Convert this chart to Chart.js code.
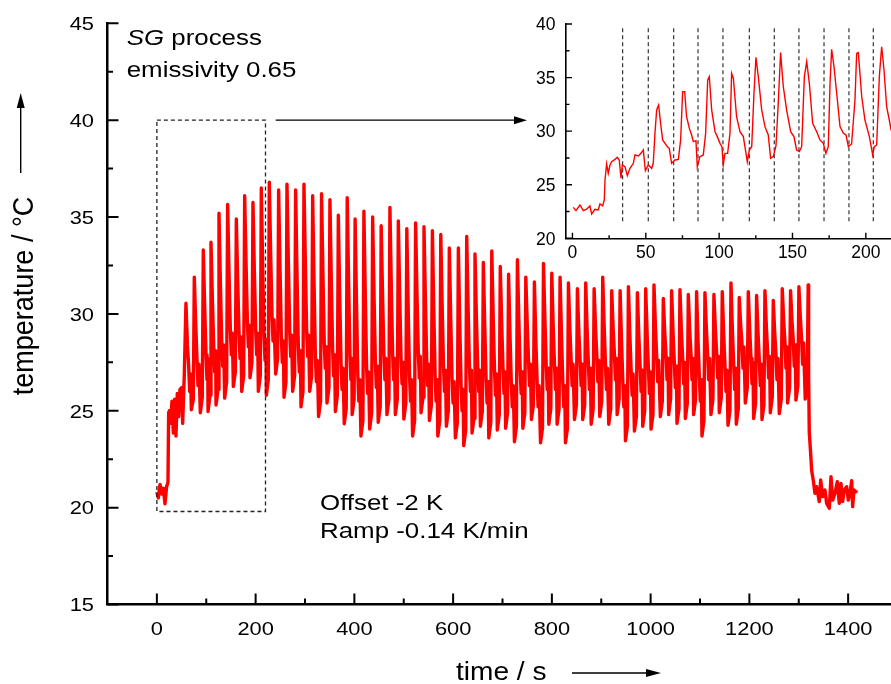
<!DOCTYPE html>
<html><head><meta charset="utf-8">
<script src="https://cdn.jsdelivr.net/npm/chart.js@4.4.1/dist/chart.umd.min.js"></script>
<style>
html,body{margin:0;padding:0;background:#fff;overflow:hidden;width:891px;height:684px}
#main{position:absolute;left:0;top:0}
#inset{position:absolute;left:480px;top:0}
</style></head><body>
<canvas id="main" width="900" height="684"></canvas>
<canvas id="inset" width="420" height="270"></canvas>
<script>
// ---- main record: temperature (°C) over time (s) ----
const mainWarmup = [[0,20.8],[2.9,20.5],[6.3,21.2],[9.7,20.7],[13,21.0],[16.4,20.2],[19.8,21.1],[22.5,21.3],
  [23.8,24.9],[25.2,25.0],[27.9,24.35],[30.6,25.5],[33.3,23.85],[36,25.6],[38.7,23.7],[41.4,25.9],[44.1,24.7],
  [46.8,26.1],[50.2,26.2],[52.2,24.35],[55.6,26.9]];

// one row per heating cycle: trough, start of rise, peak, decay, plateau wiggle
const mainCycles = [
  [[58.9,30.55],[61.9,28.4],[64.4,27.3],[66.4,26.0],[68.4,26.9]],
  [[69.8,25.05],[73.8,25.6],[75.8,31.9],[78.8,29.4],[81.3,27.6],[83.3,26.3],[85.3,27.4]],
  [[88,24.9],[92,25.7],[94,33.3],[97,30.2],[99.5,27.9],[101.5,26.6],[103,27.7]],
  [[103.6,24.96],[107.6,25.8],[109.6,33.7],[112.6,30.6],[115.1,28.3],[117.1,27.0],[119.1,28.1]],
  [[119.8,25.3],[123.8,26.1],[125.8,35.2],[128.8,31.4],[131.3,28.6],[133.3,27.3],[135.3,28.4]],
  [[137.3,25.65],[141.3,26.5],[143.3,35.65],[146.3,31.9],[148.8,29.2],[150.8,27.9],[152.8,29.0]],
  [[154.9,26.25],[158.9,27.0],[160.9,34.9],[163.9,31.5],[166.4,29.0],[168.4,27.7],[170.4,28.8]],
  [[171.8,26.0],[175.8,26.8],[177.8,36.1],[180.8,32.4],[183.3,29.6],[185.3,28.3],[187.3,29.4]],
  [[188.6,26.7],[192.6,27.5],[194.6,35.75],[197.6,32.0],[200.1,29.2],[202.1,27.9],[204.1,29.0]],
  [[205.5,26.0],[209.5,26.8],[211.5,36.5],[214.5,32.2],[217,28.9],[219,27.6],[221,28.7]],
  [[221.7,25.8],[225.7,26.6],[227.7,36.8],[230.7,32.8],[233.2,29.9],[235.2,28.6],[237.2,29.7]],
  [[240.6,26.9],[244.6,27.7],[246.6,36.4],[249.6,32.1],[252.1,28.8],[254.1,27.5],[256.1,28.6]],
  [[257.5,25.7],[261.5,26.5],[263.5,36.7],[266.5,32.4],[269,29.1],[271,27.8],[273,28.9]],
  [[275,26.0],[279,26.8],[281,36.4],[284,31.8],[286.5,28.3],[288.5,27.0],[290.5,28.1]],
  [[291.9,25.2],[295.9,26.0],[297.9,36.7],[300.9,32.4],[303.4,29.1],[305.4,27.8],[307.4,28.9]],
  [[309.5,26.0],[313.5,26.8],[315.5,36.1],[318.5,31.4],[321,27.8],[323,26.5],[325,27.6]],
  [[327.5,24.7],[331.5,25.5],[333.5,36.2],[336.5,31.8],[339,28.5],[341,27.2],[343,28.3]],
  [[344.5,25.4],[348.5,26.2],[350.5,35.9],[353.5,31.4],[356,28.1],[358,26.8],[360,27.9]],
  [[361.5,24.96],[365.5,25.8],[367.5,35.1],[370.5,30.7],[373,27.4],[375,26.1],[377,27.2]],
  [[379.5,24.33],[383.5,25.1],[385.5,36.0],[388.5,31.4],[391,27.9],[393,26.6],[394.8,27.7]],
  [[395.5,24.8],[399.5,25.6],[401.5,34.9],[404.5,30.3],[407,26.8],[409,25.5],[411,26.6]],
  [[413.3,23.7],[417.3,24.5],[419.3,35.3],[422.3,30.7],[424.8,27.2],[426.8,25.9],[428.8,27.0]],
  [[431,24.06],[435,24.9],[437,35.0],[440,30.7],[442.5,27.5],[444.5,26.2],[446.5,27.3]],
  [[448.3,24.4],[452.3,25.2],[454.3,34.55],[457.3,30.7],[459.8,27.9],[461.8,26.6],[463.8,27.7]],
  [[466,24.8],[470,25.6],[472,35.5],[475,31.1],[477.5,27.9],[479.5,26.6],[481.5,27.7]],
  [[483,24.8],[487,25.6],[489,34.8],[492,30.7],[494.5,27.7],[496.5,26.4],[498.5,27.5]],
  [[500.2,24.57],[504.2,25.4],[506.2,34.4],[509.2,30.0],[511.7,26.8],[513.7,25.5],[515.7,26.6]],
  [[518,23.7],[522,24.5],[524,34.7],[527,30.8],[529.5,28.0],[531.5,26.7],[533.5,27.8]],
  [[535,24.9],[539,25.7],[541,34.5],[544,30.6],[546.5,27.6],[548.5,26.3],[550.5,27.4]],
  [[552,24.5],[556,25.3],[558,34.3],[561,30.0],[563.5,26.8],[565.5,25.5],[567.5,26.6]],
  [[569,23.7],[573,24.5],[575,34.1],[578,30.2],[580.5,27.3],[582.5,26.0],[584.5,27.1]],
  [[586.3,24.2],[590.3,25.0],[592.3,33.4],[595.3,29.6],[597.8,26.7],[599.8,25.4],[601.8,26.5]],
  [[604.6,23.6],[608.6,24.4],[610.6,33.4],[613.6,29.3],[616.1,26.3],[618.1,25.0],[620.1,26.1]],
  [[621.5,23.2],[625.5,24.0],[627.5,34.0],[630.5,30.2],[633,27.3],[635,26.0],[637,27.1]],
  [[638.3,23.85],[642.3,24.6],[644.3,33.1],[647.3,29.7],[649.8,27.3],[651.8,26.0],[653.8,27.1]],
  [[655.2,24.2],[659.2,25.0],[661.2,32.65],[664.2,29.2],[666.7,26.7],[668.7,25.4],[670.7,26.5]],
  [[672.3,23.6],[676.3,24.4],[678.3,33.25],[681.3,29.7],[683.8,27.1],[685.8,25.8],[687.8,26.9]],
  [[689.5,24.0],[693.5,24.8],[695.5,32.45],[698.5,29.4],[701,27.2],[703,25.9],[705,27.0]],
  [[706.3,24.1],[710.3,24.9],[712.3,32.05],[715.3,28.8],[717.8,26.5],[719.8,25.2],[721.8,26.3]],
  [[724.2,23.4],[728.2,24.2],[730.2,32.8],[733.2,29.6],[735.7,27.2],[737.7,25.9],[739.7,27.0]],
  [[741.2,24.1],[745.2,24.9],[747.2,31.9],[750.2,29.4],[752.7,27.6],[754.7,26.3],[756.7,27.4]],
  [[758.6,24.55],[762.6,25.3],[764.6,31.65],[767.6,28.6],[770.1,26.5],[772.1,25.2],[774.1,26.3]],
  [[777,23.35],[781,24.1],[783,32.6],[786,29.6],[788.5,27.4],[790.5,26.1],[792.5,27.2]],
  [[793.8,24.3],[797.8,25.1],[799.8,32.1],[802.8,29.3],[805.3,27.4],[807.3,26.1],[809.3,27.2]],
  [[810.6,24.3],[814.6,25.1],[816.6,31.9],[819.6,28.8],[822.1,26.5],[824.1,25.2],[826.1,26.3]],
  [[827.5,23.35],[831.5,24.1],[833.5,31.6],[836.5,29.2],[839,27.6],[841,26.3],[843,27.4]],
  [[845.7,24.55],[849.7,25.3],[851.7,31.3],[854.7,29.0],[857.2,27.6],[859.2,26.3],[861.2,27.4]],
  [[862.5,24.55],[866.5,25.3],[868.5,31.6],[871.5,29.1],[874,27.4],[876,26.1],[878,27.2]],
  [[879.6,24.3],[883.6,25.1],[885.6,31.3],[888.6,29.2],[891.1,27.8],[893.1,26.5],[895.1,27.6]],
  [[897,24.7],[901,25.5],[903,31.9],[906,29.3],[908.5,27.4],[910.5,26.1],[912.5,27.2]],
  [[915.2,24.3],[919.2,25.1],[921.2,31.2],[924.2,29.2],[926.7,27.9],[928.7,26.6],[930.7,27.7]],
  [[932.2,24.8],[936.2,25.6],[938.2,31.2],[941.2,28.5],[943.7,26.5],[945.7,25.2],[947.7,26.3]],
  [[949,23.45],[953,24.2],[955,31.4],[958,28.9],[960.5,27.1],[962.5,25.8],[964.5,26.9]],
  [[967.2,23.95],[971.2,24.7],[973.2,31.1],[976.2,28.8],[978.7,27.3],[980.7,26.0],[982.7,27.1]],
  [[984,24.2],[988,25.0],[990,31.3],[993,28.9],[995.5,27.2],[997.5,25.9],[999.5,27.0]],
  [[1000.8,24.05],[1004.8,24.8],[1006.8,31.5],[1009.8,29.3],[1012.3,27.8],[1014.3,26.5],[1016.3,27.6]],
  [[1019.7,24.7],[1023.7,25.5],[1025.7,30.8],[1028.7,29.0],[1031.2,27.9],[1033.2,26.6],[1035.2,27.7]],
  [[1036.5,24.8],[1040.5,25.6],[1042.5,31.2],[1045.5,29.0],[1048,27.5],[1050,26.2],[1052,27.3]],
  [[1053.4,24.35],[1057.4,25.1],[1059.4,31.25],[1062.4,29.1],[1064.9,27.7],[1066.9,26.4],[1068.9,27.5]],
  [[1070.3,24.6],[1074.3,25.4],[1076.3,31.0],[1079.3,29.1],[1081.8,27.9],[1083.8,26.6],[1085.8,27.7]],
  [[1087.1,24.8],[1091.1,25.6],[1093.1,31.15],[1096.1,28.6],[1098.6,26.8],[1100.6,25.5],[1102.6,26.6]],
  [[1104,23.7],[1108,24.5],[1110,31.1],[1113,29.2],[1115.5,27.9],[1117.5,26.6],[1119.5,27.7]],
  [[1122.2,24.8],[1126.2,25.6],[1128.2,31.0],[1131.2,29.2],[1133.7,28.0],[1135.7,26.7],[1137.7,27.8]],
  [[1139.1,24.9],[1143.1,25.7],[1145.1,31.15],[1148.1,28.9],[1150.6,27.3],[1152.6,26.0],[1154.6,27.1]],
  [[1156.7,24.25],[1160.7,25.0],[1162.7,31.6],[1165.7,29.1],[1168.2,27.4],[1170.2,26.1],[1172.2,27.2]],
  [[1173.5,24.3],[1177.5,25.1],[1179.5,30.85],[1182.5,29.4],[1185,28.5],[1187,27.2],[1189,28.3]],
  [[1191.8,25.4],[1195.8,26.2],[1197.8,31.15],[1200.8,29.1],[1203.3,27.7],[1205.3,26.4],[1207.3,27.5]],
  [[1208.6,24.6],[1212.6,25.4],[1214.6,30.95],[1217.6,29.0],[1220.1,27.6],[1222.1,26.3],[1224.1,27.4]],
  [[1225.5,24.55],[1229.5,25.3],[1231.5,31.2],[1234.5,29.3],[1237,28.0],[1239,26.7],[1241,27.8]],
  [[1242.4,24.9],[1246.4,25.7],[1248.4,30.7],[1251.4,29.0],[1253.9,27.9],[1255.9,26.6],[1257.9,27.7]],
  [[1260.6,24.85],[1264.6,25.6],[1266.6,31.3],[1269.6,29.6],[1272.1,28.5],[1274.1,27.2],[1276.1,28.3]],
  [[1277.4,25.4],[1281.4,26.2],[1283.4,31.2],[1286.4,29.6],[1288.9,28.6],[1290.9,27.3],[1292.9,28.4]],
  [[1294.3,25.55],[1298.3,26.3],[1300.3,31.4],[1303.3,29.8],[1305.8,28.7],[1307.8,27.4],[1309.8,28.5]],
  [[1313.1,25.6],[1317.1,26.4],[1319.1,31.5]]
];

const mainCooldown = [[1320,26.8],[1321.3,23.9],[1324.1,22.8],[1326.2,21.9],[1329.5,21.4],[1332.8,20.74],
  [1336.2,21.08],[1341.6,20.31],[1344.4,21.43],[1348.4,20.57],[1353.1,20.91],[1356.5,20.22],[1361.9,19.97],
  [1365.3,21.6],[1368.7,20.39],[1373.4,20.74],[1378.1,21.34],[1382.1,20.22],[1385.5,21.25],[1388.9,20.31],
  [1392.2,20.91],[1397,21.08],[1400.3,20.39],[1403.7,20.74],[1407.2,21.39],[1409.2,20.05],[1411.8,20.91],
  [1415.9,20.82],[1417.3,20.91]];

// ---- zoomed record of the first cycles ----
const insetSeries = [[0.57,22.89],[2.4,22.58],[5.1,23.11],[7.4,22.58],[9.7,22.71],[11.9,23.02],[13.1,22.27],
  [15.3,22.71],[17.6,22.64],[18.75,23.20],[20.6,23.02],[21.7,23.58],[22.2,25.44],[23.3,26.94],[24.4,26.07],
  [25.6,26.84],[26.7,27.15],[29.0,27.37],[30.6,27.56],[31.9,27.31],[33.1,25.60],[34.0,26.84],[35.8,26.69],
  [37.4,25.85],[39.2,26.53],[41.5,27.00],[42.6,27.78],[44.9,27.68],[46.7,27.93],[48.3,28.24],[49.7,26.31],
  [51.7,26.84],[54.0,26.53],[55.1,27.00],[56.25,29.80],[57.4,31.98],[58.75,32.44],[60.1,30.73],[61.5,29.18],
  [63.1,28.86],[64.7,28.55],[66.0,28.40],[67.6,27.00],[69.9,27.31],[72.2,27.37],[73.75,29.18],[75.1,33.69],
  [76.5,33.69],[77.8,31.35],[79.7,30.26],[81.25,29.64],[82.4,29.02],[84.2,29.11],[85.1,26.69],[86.9,27.62],
  [89.2,27.78],[90.8,29.80],[92.2,34.77],[93.3,35.09],[94.9,31.98],[97.2,29.95],[98.75,29.49],[100.6,28.86],
  [101.9,28.55],[102.8,26.84],[104.0,27.93],[105.8,27.93],[107.4,29.80],[108.5,35.40],[109.7,34.93],
  [111.9,31.35],[114.2,29.95],[116.5,29.49],[118.3,27.93],[119.2,27.15],[120.6,28.24],[122.2,28.55],
  [123.75,33.53],[125.1,36.89],[126.7,35.09],[129.0,31.98],[131.25,30.42],[133.5,29.64],[135.1,27.46],
  [136.9,27.62],[138.75,28.62],[140.3,32.60],[141.9,37.33],[143.75,34.15],[146.0,31.98],[148.75,29.95],
  [151.0,29.49],[152.8,28.24],[154.7,28.09],[156.25,28.55],[158.1,35.09],[159.7,36.49],[161.5,34.46],
  [163.75,30.73],[166.5,29.95],[168.75,29.18],[171.0,28.86],[172.8,27.93],[174.4,28.55],[175.6,34.46],
  [176.7,37.64],[178.3,36.02],[180.6,32.91],[182.4,30.42],[184.7,29.80],[186.5,29.64],[188.1,28.55],
  [190.3,28.80],[192.6,32.91],[193.75,37.26],[194.9,37.33],[197.2,33.22],[199.4,31.04],[202.4,29.49],
  [204.7,27.78],[205.8,28.55],[207.4,28.71],[209.2,35.09],[210.8,37.88],[212.4,35.71],[214.2,32.29],
  [216.0,31.04],[217.2,30.11],[219,29.8],[221,29.5],[223.5,29.3]];
const insetMarkers = [34.2, 51.7, 69.0, 85.6, 102.6, 120.6, 137.6, 154.4, 171.5, 188.5, 205.1];

// ---- axes ----
const mainXTicks = [0, 200, 400, 600, 800, 1000, 1200, 1400];
const mainXMinor = [100, 300, 500, 700, 900, 1100, 1300, 1500];
const mainYTicks = [15, 20, 25, 30, 35, 40, 45];
const mainYMinor = [17.5, 22.5, 27.5, 32.5, 37.5, 42.5];
const insetXTicks = [0, 50, 100, 150, 200];
const insetXMinor = [25, 75, 125, 175, 225];
const insetYTicks = [20, 25, 30, 35, 40];
const insetYMinor = [22.5, 27.5, 32.5, 37.5];

// ---- annotations ----
const zoomBox = { t0: 0, t1: 220, lo: 19.8, hi: 40 };
const pointer = { t0: 240.6, t1: 749.6, level: 40 };

const FONT = '"Liberation Sans", Arial, sans-serif';
const toPoints = pairs => pairs.map(([x, y]) => ({ x, y }));

function txt(ctx, s, x, y, size, align, sx, style) {
  ctx.save();
  ctx.translate(x, y);
  ctx.scale(sx, 1);
  ctx.font = (style ? style + ' ' : '') + size + 'px ' + FONT;
  ctx.textAlign = align;
  ctx.textBaseline = 'alphabetic';
  ctx.fillStyle = '#000';
  ctx.fillText(s, 0, 0);
  ctx.restore();
}
function arrow(ctx, x1, y1, x2, y2, len, half, lw) {
  const a = Math.atan2(y2 - y1, x2 - x1);
  const bx = x2 - len * Math.cos(a), by = y2 - len * Math.sin(a);
  ctx.save();
  ctx.strokeStyle = '#000'; ctx.fillStyle = '#000'; ctx.lineWidth = lw;
  ctx.beginPath(); ctx.moveTo(x1, y1); ctx.lineTo(bx, by); ctx.stroke();
  ctx.beginPath();
  ctx.moveTo(x2, y2);
  ctx.lineTo(bx + half * Math.sin(a), by - half * Math.cos(a));
  ctx.lineTo(bx - half * Math.sin(a), by + half * Math.cos(a));
  ctx.closePath(); ctx.fill();
  ctx.restore();
}
function inwardTicks(ctx, chart, xs, ys, lw) {
  const { x, y } = chart.scales, a = chart.chartArea;
  ctx.save();
  ctx.strokeStyle = '#000'; ctx.lineWidth = lw;
  ctx.beginPath();
  xs.forEach(([v, l]) => { const px = x.getPixelForValue(v); ctx.moveTo(px, a.bottom); ctx.lineTo(px, a.bottom - l); });
  ys.forEach(([v, l]) => { const py = y.getPixelForValue(v); ctx.moveTo(a.left, py); ctx.lineTo(a.left + l, py); });
  ctx.stroke();
  ctx.restore();
}

const mainDecor = {
  id: 'mainDecor',
  afterDatasetsDraw(chart) {
    const ctx = chart.ctx, { x, y } = chart.scales;
    // dashed frame around the zoomed interval
    ctx.save();
    ctx.strokeStyle = '#222'; ctx.lineWidth = 1.3; ctx.setLineDash([4, 3]);
    const bx0 = x.getPixelForValue(zoomBox.t0), bx1 = x.getPixelForValue(zoomBox.t1);
    const by0 = y.getPixelForValue(zoomBox.hi), by1 = y.getPixelForValue(zoomBox.lo);
    ctx.strokeRect(bx0, by0, bx1 - bx0, by1 - by0);
    ctx.restore();
    const py = y.getPixelForValue(pointer.level);
    arrow(ctx, x.getPixelForValue(pointer.t0), py, x.getPixelForValue(pointer.t1), py, 13, 4, 1.3);
  },
  afterDraw(chart) {
    const ctx = chart.ctx, { x, y } = chart.scales;
    inwardTicks(ctx, chart, mainXTicks.map(v => [v, 11]).concat(mainXMinor.map(v => [v, 6])),
      mainYTicks.map(v => [v, 11]).concat(mainYMinor.map(v => [v, 5.5])), 2);
    mainXTicks.forEach(v => txt(ctx, String(v), x.getPixelForValue(v), 635, 19, 'center', 1.15));
    mainYTicks.forEach(v => txt(ctx, String(v), 94, y.getPixelForValue(v) + 6.8, 19, 'right', 1.15));
    // notes
    ctx.save();
    ctx.font = 'italic 22.5px ' + FONT;
    const wSG = ctx.measureText('SG').width * 1.15;
    ctx.restore();
    txt(ctx, 'SG', 126.7, 45, 22.5, 'left', 1.15, 'italic');
    txt(ctx, ' process', 126.7 + wSG, 45, 22.5, 'left', 1.15);
    txt(ctx, 'emissivity 0.65', 126.7, 77, 22.5, 'left', 1.15);
    txt(ctx, 'Offset -2 K', 320, 509.5, 22.5, 'left', 1.15);
    txt(ctx, 'Ramp -0.14 K/min', 320, 537.5, 22.5, 'left', 1.15);
    // axis titles with direction arrows
    ctx.save();
    ctx.translate(32.5, 296);
    ctx.rotate(-Math.PI / 2);
    ctx.scale(1, 1.12);
    ctx.font = '27px ' + FONT; ctx.textAlign = 'center'; ctx.fillStyle = '#000';
    ctx.fillText('temperature / °C', 0, 0);
    ctx.restore();
    arrow(ctx, 20.7, 173, 20.7, 93, 15, 4, 1.4);
    txt(ctx, 'time / s', 456, 680, 26, 'left', 1.08);
    arrow(ctx, 572, 673, 661, 673, 15, 4, 1.4);
  }
};

new Chart(document.getElementById('main'), {
  type: 'scatter',
  data: { datasets: [{
    data: toPoints([...mainWarmup, ...mainCycles.flat(), ...mainCooldown]),
    showLine: true, borderColor: '#ff0000', borderWidth: 3.4, pointRadius: 0, tension: 0,
    borderJoinStyle: 'round'
  }] },
  options: {
    responsive: false, animation: false, devicePixelRatio: 1, events: [],
    layout: { padding: { top: 23.3, right: 2.5, left: 0, bottom: 0 } },
    plugins: { legend: { display: false }, tooltip: { enabled: false } },
    scales: {
      x: { type: 'linear', min: -100, max: 1500, ticks: { display: false },
           grid: { display: false, drawTicks: false }, border: { display: true, color: '#000', width: 2.5 },
           afterFit(s) { s.height = 79.5; } },
      y: { type: 'linear', min: 15, max: 45, ticks: { display: false },
           grid: { display: false, drawTicks: false }, border: { display: true, color: '#000', width: 2.5 },
           afterFit(s) { s.width = 107.5; } }
    }
  },
  plugins: [mainDecor]
});

const insetDecor = {
  id: 'insetDecor',
  beforeDatasetsDraw(chart) {
    const ctx = chart.ctx, { x, y } = chart.scales;
    ctx.save();
    ctx.strokeStyle = '#333'; ctx.lineWidth = 1.2; ctx.setLineDash([4, 3]);
    insetMarkers.forEach(v => {
      const px = x.getPixelForValue(v);
      ctx.beginPath(); ctx.moveTo(px, y.getPixelForValue(39.6)); ctx.lineTo(px, y.getPixelForValue(21.6)); ctx.stroke();
    });
    ctx.restore();
  },
  afterDraw(chart) {
    const ctx = chart.ctx, { x, y } = chart.scales;
    inwardTicks(ctx, chart, insetXTicks.map(v => [v, 5.5]).concat(insetXMinor.map(v => [v, 3])),
      insetYTicks.map(v => [v, 6]).concat(insetYMinor.map(v => [v, 3.5])), 1.4);
    insetXTicks.forEach(v => txt(ctx, String(v), x.getPixelForValue(v), 257.5, 17.5, 'center', 1));
    insetYTicks.forEach(v => txt(ctx, String(v), 75.5, y.getPixelForValue(v) + 6.3, 17.5, 'right', 1));
  }
};

new Chart(document.getElementById('inset'), {
  type: 'scatter',
  data: { datasets: [{
    data: toPoints(insetSeries),
    showLine: true, borderColor: '#ff0000', borderWidth: 1.4, pointRadius: 0, tension: 0
  }] },
  options: {
    responsive: false, animation: false, devicePixelRatio: 1, events: [],
    layout: { padding: { top: 24, right: 0, left: 0, bottom: 0 } },
    plugins: { legend: { display: false }, tooltip: { enabled: false } },
    scales: {
      x: { type: 'linear', min: -4.4, max: 223.3, ticks: { display: false },
           grid: { display: false, drawTicks: false }, border: { display: true, color: '#000', width: 1.6 },
           afterFit(s) { s.height = 31.7; } },
      y: { type: 'linear', min: 20, max: 40, ticks: { display: false },
           grid: { display: false, drawTicks: false }, border: { display: true, color: '#000', width: 1.6 },
           afterFit(s) { s.width = 86; } }
    }
  },
  plugins: [insetDecor]
});
</script></body></html>
